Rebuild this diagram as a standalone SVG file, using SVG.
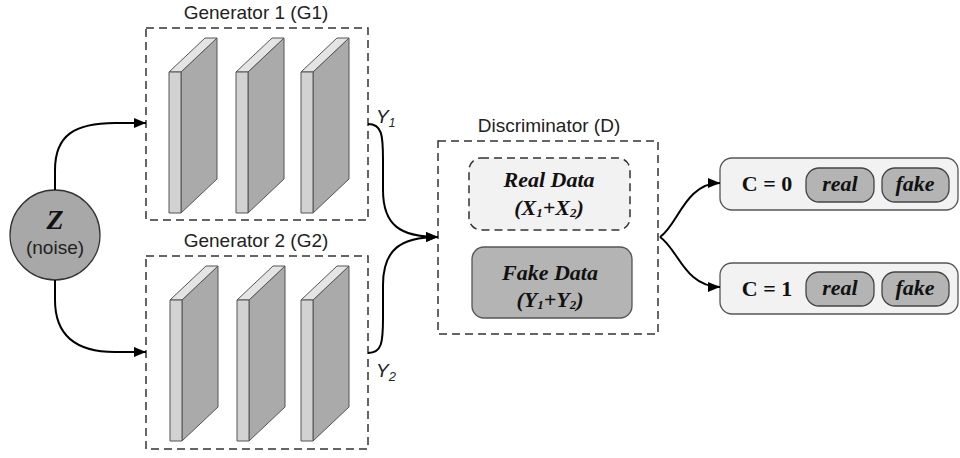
<svg xmlns="http://www.w3.org/2000/svg" xmlns:xlink="http://www.w3.org/1999/xlink" width="960" height="458" viewBox="0 0 960 458">
  <style>
    .dash { fill: none; stroke: #333; stroke-width: 1.5; stroke-dasharray: 8 5; }
    .sans { font-family: "Liberation Sans", Arial, sans-serif; fill: #222; }
    .title { font-size: 19px; text-anchor: middle; }
    .serif { font-family: "Liberation Serif", "Times New Roman", "DejaVu Serif", serif; font-weight: bold; font-style: italic; fill: #111; text-anchor: middle; }
    .upright { font-style: normal; }
    .link { fill: none; stroke: #000; stroke-width: 2; }
    .panel { fill: #f2f2f2; stroke: #555; stroke-width: 1.3; }
    .pill { fill: #b4b4b4; stroke: #444; stroke-width: 1.3; }
  </style>
  <defs>
    <marker id="arrow" viewBox="0 0 12 10" refX="12" refY="5" markerWidth="12" markerHeight="10" markerUnits="userSpaceOnUse" orient="auto">
      <path d="M0,0 L12,5 L0,10 z" fill="#000"/>
    </marker>
    <!-- one convolution slab: front edge at (0,0), depth going up-right -->
    <g id="slab" stroke="#555" stroke-width="1" stroke-linejoin="round">
      <polygon points="12,0 48,-34 48,107 12,141" fill="#aaaaaa"/>
      <polygon points="0,0 12,0 48,-34 36,-34" fill="#e4e4e4"/>
      <rect x="0" y="0" width="12" height="141" fill="#d2d2d2"/>
    </g>
  </defs>

  <!-- noise input -->
  <g id="noise">
    <circle cx="55" cy="235" r="45" fill="#a8a8a8" stroke="#333" stroke-width="1.3"/>
    <text x="55" y="229" class="serif" font-size="28">Z</text>
    <text x="55" y="254" class="sans" font-size="19" text-anchor="middle">(noise)</text>
  </g>

  <!-- generator 1 -->
  <g id="generator1">
    <text x="256" y="19" class="sans title">Generator 1 (G1)</text>
    <rect x="146" y="28" width="222" height="192" class="dash"/>
    <use xlink:href="#slab" x="169" y="72"/>
    <use xlink:href="#slab" x="236" y="72"/>
    <use xlink:href="#slab" x="301" y="72"/>
  </g>

  <!-- generator 2 -->
  <g id="generator2">
    <text x="256" y="247" class="sans title">Generator 2 (G2)</text>
    <rect x="146" y="256" width="222" height="193" class="dash"/>
    <use xlink:href="#slab" x="170" y="300"/>
    <use xlink:href="#slab" x="237" y="300"/>
    <use xlink:href="#slab" x="301" y="300"/>
  </g>

  <!-- discriminator -->
  <g id="discriminator">
    <text x="549" y="132" class="sans title">Discriminator (D)</text>
    <rect x="438" y="141" width="220" height="193" class="dash"/>
    <g id="real-data">
      <rect x="469" y="158" width="161" height="72" rx="12" class="dash" style="fill:#f2f2f2"/>
      <text x="549" y="187" class="serif" font-size="22">Real Data</text>
      <text x="549" y="215" class="serif" font-size="22">(X<tspan font-size="13" dy="2">1</tspan><tspan dy="-2">+X</tspan><tspan font-size="13" dy="2">2</tspan><tspan dy="-2">)</tspan></text>
    </g>
    <g id="fake-data">
      <rect x="472" y="247" width="160" height="71" rx="12" fill="#b4b4b4" stroke="#555" stroke-width="1.3"/>
      <text x="550" y="280" class="serif" font-size="22">Fake Data</text>
      <text x="550" y="307" class="serif" font-size="22">(Y<tspan font-size="13" dy="2">1</tspan><tspan dy="-2">+Y</tspan><tspan font-size="13" dy="2">2</tspan><tspan dy="-2">)</tspan></text>
    </g>
  </g>

  <!-- outputs -->
  <g id="class0">
    <rect x="720" y="158" width="238" height="52" rx="12" class="panel"/>
    <text x="767" y="191" class="serif upright" font-size="22">C = 0</text>
    <rect x="806" y="168" width="68" height="34" rx="13" class="pill"/>
    <text x="840" y="191" class="serif" font-size="22">real</text>
    <rect x="882" y="168" width="67" height="34" rx="13" class="pill"/>
    <text x="915" y="191" class="serif" font-size="22">fake</text>
  </g>
  <g id="class1">
    <rect x="720" y="263" width="238" height="51" rx="12" class="panel"/>
    <text x="767" y="296" class="serif upright" font-size="22">C = 1</text>
    <rect x="806" y="272" width="68" height="34" rx="13" class="pill"/>
    <text x="840" y="295" class="serif" font-size="22">real</text>
    <rect x="882" y="272" width="67" height="34" rx="13" class="pill"/>
    <text x="915" y="295" class="serif" font-size="22">fake</text>
  </g>

  <!-- connectors -->
  <g id="connectors">
    <path class="link" d="M55,190 L55,170 C55,135 75,123 115,123 L146,123" marker-end="url(#arrow)"/>
    <path class="link" d="M55,280 L55,300 C55,335 75,352 115,352 L146,352" marker-end="url(#arrow)"/>
    <path class="link" d="M368,124 C382,124 383,135 383,160 L383,190 C383,225 400,237 438,237" marker-end="url(#arrow)"/>
    <path class="link" d="M368,353 C382,353 383,342 383,318 L383,285 C383,250 400,237 438,237" marker-end="url(#arrow)"/>
    <path class="link" d="M660,237 C678,225 685,183 720,183" marker-end="url(#arrow)"/>
    <path class="link" d="M660,237 C678,249 685,287 720,287" marker-end="url(#arrow)"/>
  </g>

  <!-- output labels -->
  <g id="labels" class="sans" font-style="italic">
    <text x="376" y="123" font-size="19">Y<tspan font-size="12" dy="4">1</tspan></text>
    <text x="376" y="377" font-size="19">Y<tspan font-size="13" dy="4">2</tspan></text>
  </g>
</svg>
